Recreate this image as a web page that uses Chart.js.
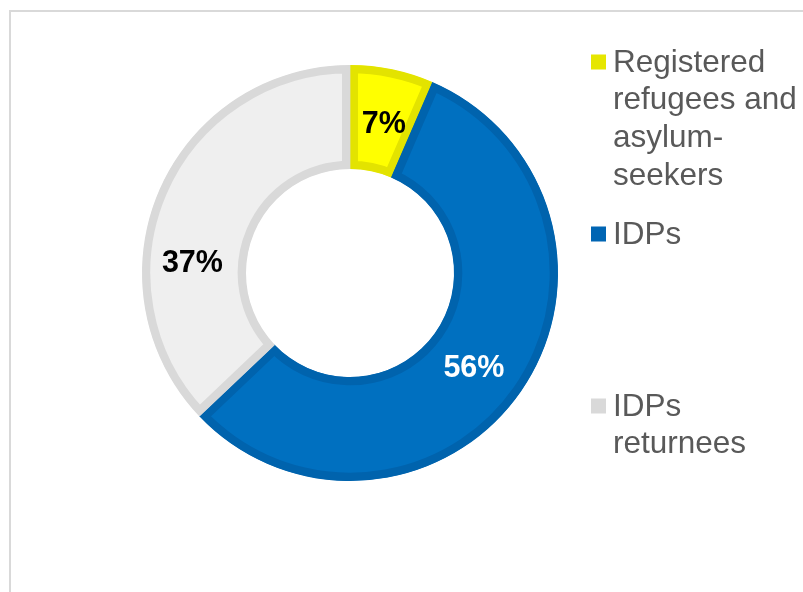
<!DOCTYPE html>
<html>
<head>
<meta charset="utf-8">
<script src="https://cdn.jsdelivr.net/npm/chart.js@4.4.0/dist/chart.umd.min.js"></script>
<style>
  html, body { margin: 0; padding: 0; background: #fff; overflow: hidden; }
  #frame {
    position: absolute; left: 9px; top: 10px; width: 820px; height: 620px;
    border-top: 2px solid #d9d9d9; border-left: 2px solid #d9d9d9;
  }
  #wrap { position: absolute; left: 0; top: 0; width: 803px; height: 592px; }
</style>
</head>
<body>
<div id="frame"></div>
<div id="wrap"><canvas id="chart"></canvas></div>
<script>
// Population groups (share of total, %)
const categories = ['Registered refugees and asylum-seekers', 'IDPs', 'IDPs returnees'];
const legendLines = [['Registered', 'refugees and', 'asylum-', 'seekers'], ['IDPs'], ['IDPs', 'returnees']];
const shares = [6.5, 56.4, 37.1];
const sliceLabels = ['7%', '56%', '37%'];

const fillColors = ['#ffff00', '#0070c0', '#efefef'];
const edgeColors = ['#e3e300', '#0063ad', '#d9d9d9'];
const labelColors = ['#000000', '#ffffff', '#000000'];
const legendBoxColors = ['#e6e600', '#0065b3', '#d9d9d9'];

const FONT = "'Liberation Sans', Arial, sans-serif";

// Percentage labels drawn on the ring
const sliceLabelPlugin = {
    id: 'sliceLabels',
    afterDatasetsDraw(chart, args, opts) {
        const ctx = chart.ctx;
        const arcs = chart.getDatasetMeta(0).data;
        ctx.save();
        ctx.font = 'bold 30.5px ' + FONT;
        ctx.textAlign = 'center';
        ctx.textBaseline = 'middle';
        arcs.forEach((arc, i) => {
            const p = arc.getProps(['x', 'y', 'startAngle', 'endAngle', 'innerRadius', 'outerRadius'], true);
            const mid = (p.startAngle + p.endAngle) / 2 + (opts.nudge[i] || 0) * Math.PI / 180;
            const r = (p.innerRadius + p.outerRadius) / 2 + (opts.radial[i] || 0);
            ctx.fillStyle = labelColors[i];
            ctx.fillText(sliceLabels[i], p.x + Math.cos(mid) * r, p.y + Math.sin(mid) * r + 2);
        });
        ctx.restore();
    }
};

// Excel-style legend on the right, items on a fixed pitch
const sideLegendPlugin = {
    id: 'sideLegend',
    afterDraw(chart, args, opts) {
        const ctx = chart.ctx;
        ctx.save();
        ctx.font = opts.fontSize + 'px ' + FONT;
        ctx.textBaseline = 'middle';
        ctx.textAlign = 'left';
        legendLines.forEach((lines, i) => {
            const y0 = opts.top + i * opts.pitch;
            ctx.fillStyle = legendBoxColors[i];
            ctx.fillRect(opts.left, y0 - opts.box / 2, opts.box, opts.box);
            ctx.fillStyle = '#595959';
            lines.forEach((line, k) => {
                ctx.fillText(line, opts.left + opts.box + 7, y0 + k * opts.lineHeight + 1);
            });
        });
        ctx.restore();
    }
};

new Chart(document.getElementById('chart'), {
    type: 'doughnut',
    data: {
        labels: categories,
        datasets: [{
            data: shares,
            backgroundColor: fillColors,
            borderColor: edgeColors,
            borderWidth: 8,
            borderAlign: 'inner'
        }]
    },
    options: {
        responsive: true,
        maintainAspectRatio: false,
        animation: false,
        cutout: '50%',
        layout: { padding: { left: 142, top: 65, right: 245, bottom: 111 } },
        plugins: {
            legend: { display: false },
            tooltip: { enabled: false },
            sliceLabels: { nudge: [1, 2, -19], radial: [-2, -1, 2] },
            sideLegend: { left: 591, top: 62, pitch: 172, box: 15, fontSize: 31.5, lineHeight: 37.7 }
        }
    },
    plugins: [sliceLabelPlugin, sideLegendPlugin]
});
</script>
</body>
</html>
